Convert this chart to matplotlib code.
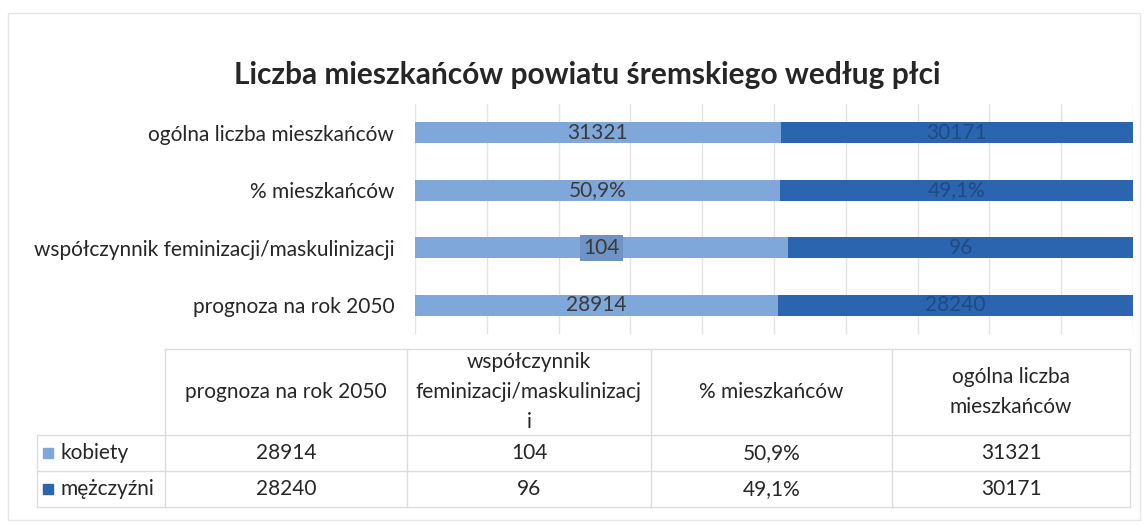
import matplotlib
matplotlib.use("Agg")
import matplotlib.pyplot as plt
from matplotlib.patches import Rectangle

plt.rcParams['font.family'] = ['Lato', 'DejaVu Sans']

# Data (bar order: bottom to top, table order: left to right)
categories = ['prognoza na rok 2050', 'współczynnik feminizacji/maskulinizacji',
              '% mieszkańców', 'ogólna liczba mieszkańców']
table_headers = ['prognoza na rok 2050', 'współczynnik\nfeminizacji/maskulinizacj\ni',
                 '% mieszkańców', 'ogólna liczba\nmieszkańców']
series_names = ['kobiety', 'mężczyźni']
kobiety = [28914, 104, 50.9, 31321]
mezczyzni = [28240, 96, 49.1, 30171]
kobiety_labels = ['28914', '104', '50,9%', '31321']
mezczyzni_labels = ['28240', '96', '49,1%', '30171']

light = '#80A7DA'
dark = '#2B65B0'
grid_col = '#E3E3E3'
text_col = '#262626'
fs = 15

W, H = 1145, 525
fig = plt.figure(figsize=(W / 100, H / 100), dpi=100)

def box(l, t, r, b):
    return [l / W, 1 - b / H, (r - l) / W, (b - t) / H]

# background overlay in pixel coordinates (border, title, table)
bg = fig.add_axes([0, 0, 1, 1])
bg.set_xlim(0, W)
bg.set_ylim(H, 0)
bg.axis('off')
bg.add_patch(Rectangle((8, 13), 1132, 507, fill=False, edgecolor='#E6E6E6', lw=1))
bg.text(587, 75, 'Liczba mieszkańców powiatu śremskiego według płci',
        ha='center', va='center', fontsize=21.5, fontweight='bold', color=text_col)

# bar chart (100% stacked)
ax = fig.add_axes(box(415, 104, 1133, 334))
share_k = [k / (k + m) for k, m in zip(kobiety, mezczyzni)]
share_m = [m / (k + m) for k, m in zip(kobiety, mezczyzni)]
y = range(len(categories))
ax.barh(y, share_k, height=0.36, color=light, zorder=2)
ax.barh(y, share_m, left=share_k, height=0.36, color=dark, zorder=2)
for i in y:
    kw = {}
    if categories[i].startswith('współczynnik'):
        kw['bbox'] = dict(boxstyle='square,pad=0.15', fc='#6F93C5', ec='none')
    ax.text(share_k[i] / 2, i, kobiety_labels[i], ha='center', va='center',
            fontsize=fs, color='#3A3A3A', zorder=3, **kw)
    ax.text(share_k[i] + share_m[i] / 2, i, mezczyzni_labels[i], ha='center',
            va='center', fontsize=fs, color='#1E4B85', zorder=3)
ax.set_xlim(0, 1)
ax.set_ylim(-0.5, 3.5)
ax.set_xticks([i / 10 for i in range(11)])
ax.grid(axis='x', color=grid_col, lw=1, zorder=0)
ax.tick_params(length=0, labelbottom=False)
ax.set_yticks(list(y))
ax.set_yticklabels(categories, fontsize=fs, color=text_col)
ax.tick_params(axis='y', pad=15)
for s in ax.spines.values():
    s.set_visible(False)

# data table
col_edges = [165, 407, 651, 892, 1130]
row_edges = [349, 435, 471, 507]
label_left = 37
line_col = '#DCDCDC'
for x in col_edges:
    bg.plot([x, x], [row_edges[0], row_edges[-1]], color=line_col, lw=1)
bg.plot([label_left, label_left], [row_edges[1], row_edges[-1]], color=line_col, lw=1)
bg.plot([col_edges[0], col_edges[-1]], [row_edges[0], row_edges[0]], color=line_col, lw=1)
for yy in row_edges[1:]:
    bg.plot([label_left, col_edges[-1]], [yy, yy], color=line_col, lw=1)

hdr_y = (row_edges[0] + row_edges[1]) / 2
for j, h in enumerate(table_headers):
    cx = (col_edges[j] + col_edges[j + 1]) / 2
    bg.text(cx, hdr_y, h, ha='center', va='center', fontsize=fs,
            color=text_col, linespacing=1.65)

rows = [(series_names[0], light, kobiety_labels), (series_names[1], dark, mezczyzni_labels)]
for r, (name, col, labels) in enumerate(rows):
    cy = (row_edges[r + 1] + row_edges[r + 2]) / 2
    bg.add_patch(Rectangle((43, cy - 5), 10, 10, color=col))
    bg.text(60, cy, name, ha='left', va='center', fontsize=fs, color=text_col)
    for j, lab in enumerate(labels):
        cx = (col_edges[j] + col_edges[j + 1]) / 2
        bg.text(cx, cy, lab, ha='center', va='center', fontsize=fs, color=text_col)

fig.savefig('out.png', dpi=100)
